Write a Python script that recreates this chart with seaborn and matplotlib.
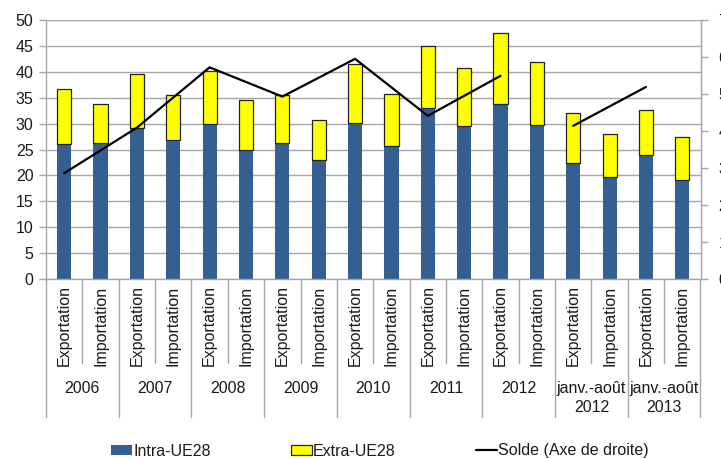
import numpy as np
import pandas as pd
import matplotlib
matplotlib.use("Agg")
import matplotlib.pyplot as plt
from matplotlib.lines import Line2D
from matplotlib.patches import Patch
import seaborn as sns

# Periods and flows
periodes = ["2006", "2007", "2008", "2009", "2010", "2011", "2012",
            "janv.-août\n2012", "janv.-août\n2013"]
flux = ["Exportation", "Importation"]

# Values (left axis), one per bar: export then import for each period
intra_ue28 = [26.1, 26.3, 29.2, 26.8, 30.0, 25.0, 26.2, 23.0, 30.1,
              25.7, 33.1, 29.5, 33.8, 29.7, 22.4, 19.6, 23.9, 19.2]
extra_ue28 = [10.6, 7.5, 10.4, 8.7, 10.2, 9.5, 9.3, 7.6, 11.5,
              10.0, 11.9, 11.2, 13.6, 12.2, 9.6, 8.3, 8.7, 8.3]

# Balance (right axis): full years, then January-August periods
solde_annuel = [2.86, 4.09, 5.72, 4.93, 5.95, 4.41, 5.49]
solde_janv_aout = [4.14, 5.19]

BLUE = "#365f91"
YELLOW = "#ffff00"
GRID = "#a6a6a6"
TXT = "#1a1a1a"

sns.set_style("white")
plt.rcParams["font.family"] = ["Liberation Sans Narrow", "Liberation Sans", "DejaVu Sans"]
plt.rcParams["font.size"] = 11

df = pd.DataFrame({
    "pos": np.arange(len(intra_ue28)),
    "intra": intra_ue28,
    "extra": extra_ue28,
})

fig = plt.figure(figsize=(7.21, 4.59), dpi=100)
ax = fig.add_axes([46 / 721, 1 - 279 / 459, 654.5 / 721, 259 / 459])

sns.barplot(data=df, x="pos", y="intra", color=BLUE, width=0.39,
            saturation=1, linewidth=0, ax=ax, zorder=2)
ax.bar(df["pos"], df["extra"], bottom=df["intra"], width=0.39,
       color=YELLOW, edgecolor="#222222", linewidth=0.9, zorder=2)

ax.set_xlim(-0.5, len(intra_ue28) - 0.5)
ax.set_ylim(0, 50)
ax.set_yticks(np.arange(0, 51, 5))
ax.set_xticks([])
ax.set_xlabel("")
ax.set_ylabel("")
ax.yaxis.grid(True, color=GRID, linewidth=1.0)
ax.set_axisbelow(True)
ax.spines["top"].set_visible(False)
for side in ["left", "bottom", "right"]:
    ax.spines[side].set_color(GRID)
    ax.spines[side].set_linewidth(1.0)
ax.tick_params(axis="y", which="major", length=5, width=1, color=GRID,
               labelsize=11.5, labelcolor=TXT, pad=4, left=True)

# Balance line on the secondary axis, at export bars
ax2 = ax.twinx()
x_annuel = [2 * i for i in range(len(solde_annuel))]
x_partiel = [2 * (len(solde_annuel) + i) for i in range(len(solde_janv_aout))]
sns.lineplot(x=x_annuel, y=solde_annuel, color="black", linewidth=1.6, ax=ax2)
sns.lineplot(x=x_partiel, y=solde_janv_aout, color="black", linewidth=1.6, ax=ax2)
ax2.set_ylim(0, 7)
ax2.set_yticks(range(0, 8))
ax2.set_xlim(-0.5, len(intra_ue28) - 0.5)
ax2.grid(False)
ax2.spines["top"].set_visible(False)
ax2.spines["right"].set_color(GRID)
ax2.spines["left"].set_visible(False)
ax2.spines["bottom"].set_visible(False)
ax2.tick_params(axis="y", length=5, width=1, color=GRID, labelsize=11.5,
                labelcolor=TXT, pad=8, right=True)

# Multi-level category axis
trans = ax.get_xaxis_transform()
n = len(intra_ue28)
for k in range(n + 1):
    xb = k - 0.5
    y_end = -0.533 if k % 2 == 0 else -0.324
    ax.add_line(Line2D([xb, xb], [0, y_end], transform=trans, color=GRID,
                       linewidth=1.0, clip_on=False))
for i, p in enumerate(periodes):
    for j, f in enumerate(flux):
        ax.text(2 * i + j, -0.181, f, transform=trans, rotation=90,
                ha="center", va="center", fontsize=11.5, color=TXT)
    ax.text(2 * i + 0.5, -0.393, p, transform=trans, ha="center", va="top",
            fontsize=11.5, color=TXT, linespacing=1.35)

# Legend
handles = [
    Patch(facecolor=BLUE, edgecolor=BLUE, linewidth=0),
    Patch(facecolor=YELLOW, edgecolor="#222222", linewidth=0.9),
    Line2D([0], [0], color="black", linewidth=1.6),
]
labels = ["Intra-UE28", "Extra-UE28", "Solde (Axe de droite)"]
fig.legend(handles, labels, loc="center", bbox_to_anchor=(380 / 721, 1 - 451 / 459),
           ncol=3, frameon=False, fontsize=11.5, handlelength=1.3,
           handleheight=0.6, handletextpad=0.1, columnspacing=5.0,
           borderaxespad=0, labelcolor=TXT)

fig.savefig("out.png", dpi=100)
